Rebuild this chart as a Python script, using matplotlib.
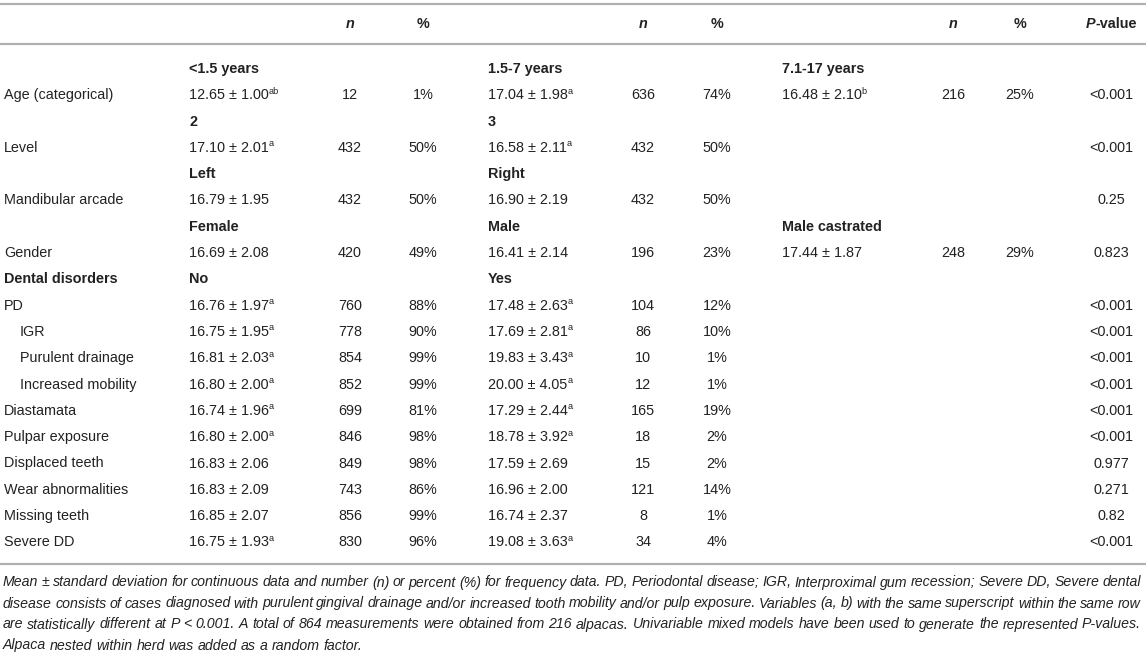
import matplotlib
matplotlib.use("Agg")
import matplotlib.pyplot as plt

# ---------------- data ----------------
var_labels = ["Age (categorical)", "Level", "Mandibular arcade", "Gender",
              "PD", "IGR", "Purulent drainage", "Increased mobility",
              "Diastamata", "Pulpar exposure", "Displaced teeth",
              "Wear abnormalities", "Missing teeth", "Severe DD"]
indented = ["IGR", "Purulent drainage", "Increased mobility"]

group1 = ["<1.5 years", "2", "Left", "Female", "No"]
group2 = ["1.5-7 years", "3", "Right", "Male", "Yes"]
group3 = ["7.1-17 years", "", "", "Male castrated", ""]
dental_header = "Dental disorders"

mean1 = [12.65, 17.10, 16.79, 16.69, 16.76, 16.75, 16.81, 16.80, 16.74, 16.80, 16.83, 16.83, 16.85, 16.75]
sd1 = [1.00, 2.01, 1.95, 2.08, 1.97, 1.95, 2.03, 2.00, 1.96, 2.00, 2.06, 2.09, 2.07, 1.93]
sup1 = ["ab", "a", "", "", "a", "a", "a", "a", "a", "a", "", "", "", "a"]
n1 = [12, 432, 432, 420, 760, 778, 854, 852, 699, 846, 849, 743, 856, 830]
pct1 = [1, 50, 50, 49, 88, 90, 99, 99, 81, 98, 98, 86, 99, 96]

mean2 = [17.04, 16.58, 16.90, 16.41, 17.48, 17.69, 19.83, 20.00, 17.29, 18.78, 17.59, 16.96, 16.74, 19.08]
sd2 = [1.98, 2.11, 2.19, 2.14, 2.63, 2.81, 3.43, 4.05, 2.44, 3.92, 2.69, 2.00, 2.37, 3.63]
sup2 = ["a", "a", "", "", "a", "a", "a", "a", "a", "a", "", "", "", "a"]
n2 = [636, 432, 432, 196, 104, 86, 10, 12, 165, 18, 15, 121, 8, 34]
pct2 = [74, 50, 50, 23, 12, 10, 1, 1, 19, 2, 2, 14, 1, 4]

mean3 = [16.48, None, None, 17.44] + [None] * 10
sd3 = [2.10, None, None, 1.87] + [None] * 10
sup3 = ["b", "", "", ""] + [""] * 10
n3 = [216, None, None, 248] + [None] * 10
pct3 = [25, None, None, 29] + [None] * 10

p_values = ["<0.001", "<0.001", "0.25", "0.823", "<0.001", "<0.001", "<0.001",
            "<0.001", "<0.001", "<0.001", "0.977", "0.271", "0.82", "<0.001"]

caption_lines = [
    "Mean \u00b1 standard deviation for continuous data and number (n) or percent (%) for frequency data. PD, Periodontal disease; IGR, Interproximal gum recession; Severe DD, Severe dental",
    "disease consists of cases diagnosed with purulent gingival drainage and/or increased tooth mobility and/or pulp exposure. Variables (a, b) with the same superscript within the same row",
    "are statistically different at P < 0.001. A total of 864 measurements were obtained from 216 alpacas. Univariable mixed models have been used to generate the represented P-values.",
    "Alpaca nested within herd was added as a random factor.",
]

# ---------------- layout / style ----------------
FONT = "Liberation Sans"
TXT = "#222222"
RULE = "#b0b0b0"
FS = 10.4
FS_SUP = 6.6
FS_CAP = 10.2
W, H = 1146, 654

X_LABEL, X_INDENT = 4, 20
X_C1, X_C2, X_C3 = 189, 488, 782
X_N = [350, 643, 953]
X_P = [423, 717, 1020]
X_PV = 1111
Y_HEAD = 23
Y0, DY = 68, 26.3
BASE = 5.0

fig = plt.figure(figsize=(W / 100, H / 100), dpi=100)
ax = fig.add_axes([0, 0, 1, 1])
ax.set_xlim(0, W)
ax.set_ylim(H, 0)
ax.axis("off")
renderer = fig.canvas.get_renderer()


def draw_runs(x, yc, runs, ha="left", fs=FS):
    objs = []
    for s, kw, dy in runs:
        size = kw.pop("size", fs)
        t = ax.text(0, 0, s, fontfamily=FONT, color=TXT, va="baseline",
                    ha="left", fontsize=size, **kw)
        objs.append((t, dy))
    widths = [t.get_window_extent(renderer).width for t, _ in objs]
    total = sum(widths)
    if ha == "left":
        x0 = x
    elif ha == "center":
        x0 = x - total / 2
    else:
        x0 = x - total
    for (t, dy), w in zip(objs, widths):
        t.set_position((x0, yc + BASE + dy))
        x0 += w


def plain(x, yc, s, ha="left", **kw):
    draw_runs(x, yc, [(s, dict(kw), 0)], ha=ha)


def mean_sd(x, yc, m, s, sup):
    runs = [(f"{m:.2f} \u00b1 {s:.2f}", {}, 0)]
    if sup:
        runs.append((sup, {"size": FS_SUP}, -5.5))
    draw_runs(x, yc, runs)


# rules
for yl in (3.5, 44, 564):
    ax.plot([0, W], [yl, yl], color=RULE, lw=1.6, solid_capstyle="butt")

# header
for xn, xp in zip(X_N, X_P):
    plain(xn, Y_HEAD, "n", ha="center", fontweight="bold", fontstyle="italic")
    plain(xp, Y_HEAD, "%", ha="center", fontweight="bold")
draw_runs(X_PV, Y_HEAD, [("P", {"fontweight": "bold", "fontstyle": "italic"}, 0),
                         ("-value", {"fontweight": "bold"}, 0)], ha="center")

# body
row = 0
for i, lab in enumerate(var_labels):
    if i < 4:
        yg = Y0 + DY * row
        for xg, g in zip((X_C1, X_C2, X_C3), (group1[i], group2[i], group3[i])):
            if g:
                plain(xg, yg, g, fontweight="bold")
        row += 1
    elif i == 4:
        yg = Y0 + DY * row
        plain(X_LABEL, yg, dental_header, fontweight="bold")
        plain(X_C1, yg, group1[4], fontweight="bold")
        plain(X_C2, yg, group2[4], fontweight="bold")
        row += 1
    y = Y0 + DY * row
    plain(X_INDENT if lab in indented else X_LABEL, y, lab)
    mean_sd(X_C1, y, mean1[i], sd1[i], sup1[i])
    plain(X_N[0], y, str(n1[i]), ha="center")
    plain(X_P[0], y, f"{pct1[i]}%", ha="center")
    mean_sd(X_C2, y, mean2[i], sd2[i], sup2[i])
    plain(X_N[1], y, str(n2[i]), ha="center")
    plain(X_P[1], y, f"{pct2[i]}%", ha="center")
    if mean3[i] is not None:
        mean_sd(X_C3, y, mean3[i], sd3[i], sup3[i])
        plain(X_N[2], y, str(n3[i]), ha="center")
        plain(X_P[2], y, f"{pct3[i]}%", ha="center")
    plain(X_PV, y, p_values[i], ha="center")
    row += 1

# caption (justified except last line)
cap_y = [582, 603, 624, 645]
left, right = 3, 1141
for k, (line, yc) in enumerate(zip(caption_lines, cap_y)):
    words = line.split(" ")
    objs = [ax.text(0, 0, w, fontfamily=FONT, fontstyle="italic", color=TXT,
                    fontsize=FS_CAP, va="baseline", ha="left") for w in words]
    widths = [t.get_window_extent(renderer).width for t in objs]
    if k < len(caption_lines) - 1:
        gap = (right - left - sum(widths)) / (len(words) - 1)
    else:
        sp = ax.text(0, 0, "a a", fontfamily=FONT, fontstyle="italic", fontsize=FS_CAP)
        sa = ax.text(0, 0, "aa", fontfamily=FONT, fontstyle="italic", fontsize=FS_CAP)
        gap = sp.get_window_extent(renderer).width - sa.get_window_extent(renderer).width
        sp.remove(); sa.remove()
    x = left
    for t, w in zip(objs, widths):
        t.set_position((x, yc + 4.5))
        x += w + gap

fig.savefig("out.png", dpi=100)
